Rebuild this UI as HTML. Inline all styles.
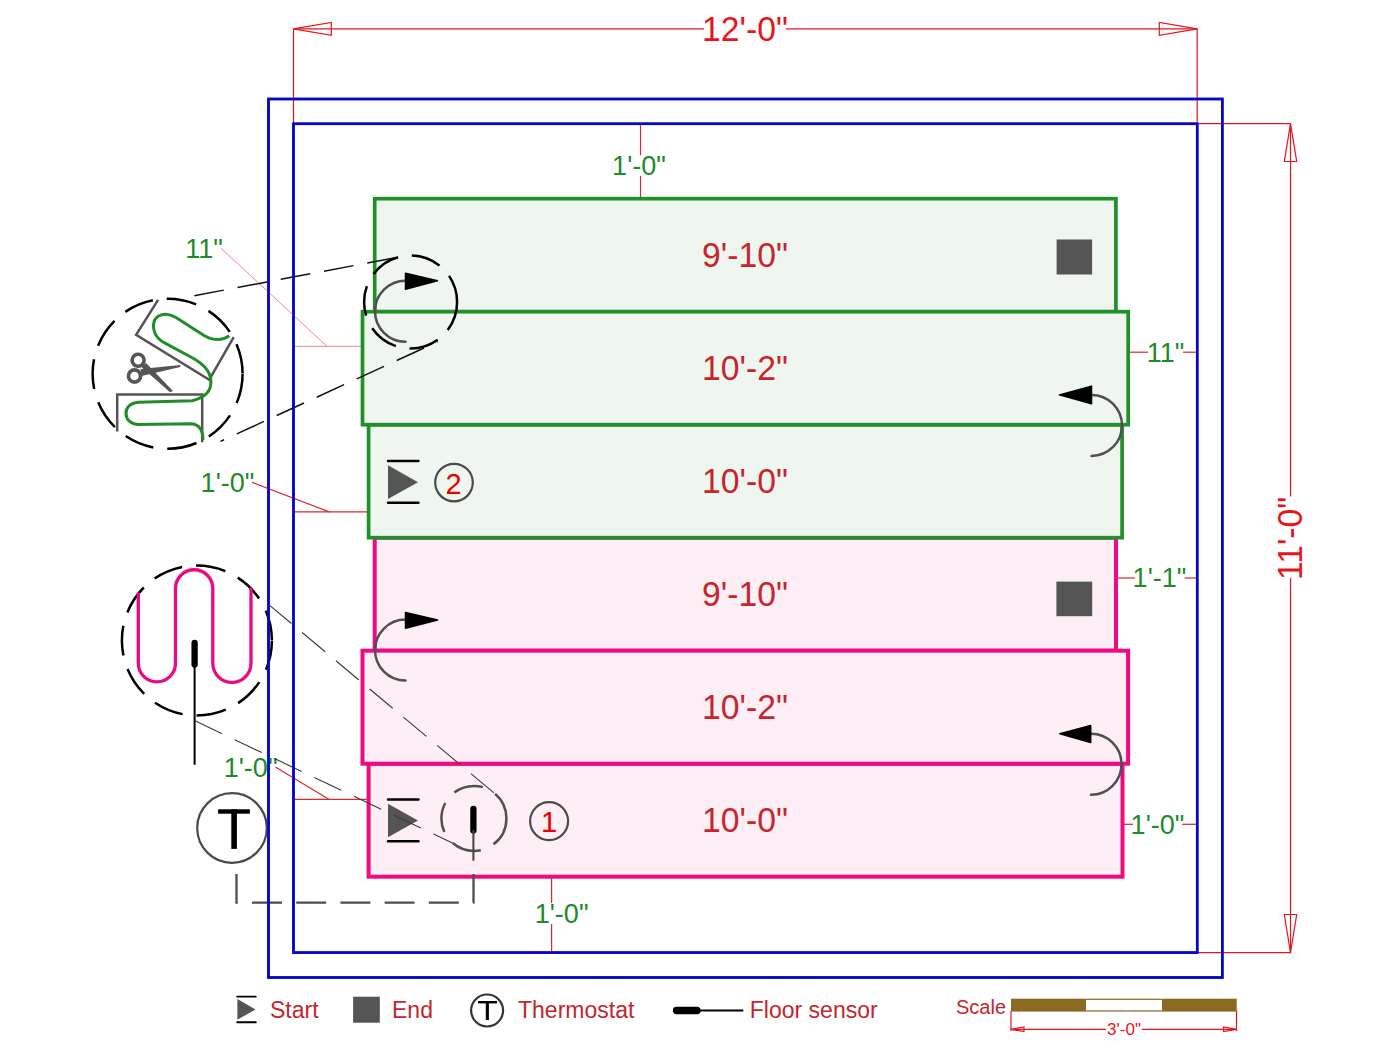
<!DOCTYPE html>
<html><head><meta charset="utf-8">
<style>
html,body{margin:0;padding:0;background:#fff;}
svg{display:block;}
text{font-family:"Liberation Sans",sans-serif;}
</style></head>
<body>
<svg width="1400" height="1049" viewBox="0 0 1400 1049">
<rect x="0" y="0" width="1400" height="1049" fill="#fff"/>

<!-- overall dims -->
<g stroke="#e8141c" stroke-width="1.2" fill="none">
  <line x1="293.5" y1="28.8" x2="704" y2="28.8"/>
  <line x1="786" y1="28.8" x2="1197.2" y2="28.8"/>
  <line x1="293.5" y1="28.8" x2="293.5" y2="123.7"/>
  <line x1="1197.2" y1="28.8" x2="1197.2" y2="123.7"/>
  <path d="M293.5 28.8 L331.3 22.5 L331.3 35.3 Z"/>
  <path d="M1197.2 28.8 L1159.3 22.5 L1159.3 35.3 Z"/>
  <line x1="1197.2" y1="123.7" x2="1291" y2="123.7"/>
  <line x1="1197.2" y1="952.6" x2="1291" y2="952.6"/>
  <line x1="1290.5" y1="123.7" x2="1290.5" y2="496.6"/>
  <line x1="1290.5" y1="578.1" x2="1290.5" y2="952.6"/>
  <path d="M1290.5 123.7 L1284.3 161.5 L1296.7 161.5 Z"/>
  <path d="M1290.5 952.6 L1284.3 914.5 L1296.7 914.5 Z"/>
</g>
<text x="745" y="40.8" font-size="35.5" fill="#e8141c" text-anchor="middle" transform="translate(745 0) scale(0.95 1) translate(-745 0)">12'-0"</text>
<text transform="translate(1302.2,538.4) rotate(-90) scale(0.95 1)" x="0" y="0" font-size="35.5" fill="#e8141c" text-anchor="middle">11'-0"</text>

<!-- walls -->
<rect x="268.5" y="99" width="953.8" height="878.5" fill="none" stroke="#0606c8" stroke-width="2.5"/>
<rect x="293.5" y="123.8" width="903.7" height="828.8" fill="none" stroke="#0606c8" stroke-width="2.5"/>

<!-- inner dims (red lines) -->
<g stroke="#d42a2a" stroke-width="1.2" fill="none">
  <line x1="640.5" y1="123.7" x2="640.5" y2="155.3"/>
  <line x1="640" y1="123.9" x2="648" y2="123.9"/>
  <line x1="640.5" y1="176" x2="640.5" y2="198.8"/>
  <line x1="551.6" y1="876.9" x2="551.6" y2="903"/>
  <line x1="551.6" y1="924" x2="551.6" y2="952.6"/>
  <line x1="538" y1="952.3" x2="552" y2="952.3"/>
  <line x1="1128.2" y1="352.2" x2="1148" y2="352.2"/>
  <line x1="1183" y1="352.2" x2="1197.2" y2="352.2"/>
  <line x1="1116" y1="578" x2="1135" y2="578"/>
  <line x1="1184.6" y1="578" x2="1197.2" y2="578"/>
  <line x1="1122.3" y1="824.3" x2="1133" y2="824.3"/>
  <line x1="1182" y1="824.3" x2="1197.2" y2="824.3"/>
  <polyline points="252.1,482.4 329.3,511.9"/>
  <line x1="293.5" y1="504" x2="293.5" y2="512"/>
  <line x1="293.5" y1="511.9" x2="368.6" y2="511.9"/>
  <polyline points="275.4,766.9 328.8,799.3"/>
  <line x1="293.5" y1="792" x2="293.5" y2="800"/>
  <line x1="293.5" y1="799.3" x2="368.6" y2="799.3"/>
</g>
<g stroke="#f08a8a" stroke-width="1" fill="none">
  <polyline points="220.7,247.9 327.1,346.4"/>
  <line x1="293.5" y1="346.4" x2="362.5" y2="346.4"/>
</g>
<g font-size="27" fill="#1f8a2a" text-anchor="middle">
  <text x="639" y="175">1'-0"</text>
  <text x="561.6" y="922.5">1'-0"</text>
  <text x="1165.5" y="361.5">11"</text>
  <text x="1159.5" y="586.5">1'-1"</text>
  <text x="1157.5" y="833.5">1'-0"</text>
  <text x="204" y="257.5">11"</text>
  <text x="227.5" y="492">1'-0"</text>
  <text x="250.6" y="776.5">1'-0"</text>
</g>

<!-- mats pink -->
<g stroke="#f00a82" stroke-width="4" fill="#feeef5">
  <rect x="374.7" y="537.7" width="741.3" height="113"/>
  <rect x="368.6" y="763.7" width="753.9" height="113"/>
  <rect x="362.5" y="650.7" width="765.6" height="113"/>
</g>
<!-- mats green -->
<g stroke="#22902a" stroke-width="3.7" fill="#eff6ef">
  <rect x="374.7" y="198.7" width="741.2" height="113"/>
  <rect x="368.6" y="424.7" width="753.5" height="113"/>
  <rect x="362.5" y="311.7" width="765.7" height="113"/>
</g>
<g font-size="35.5" fill="#c8242e" text-anchor="middle" transform="translate(745 0) scale(0.95 1) translate(-745 0)">
  <text x="745" y="267">9'-10"</text>
  <text x="745" y="380">10'-2"</text>
  <text x="745" y="493">10'-0"</text>
  <text x="745" y="606">9'-10"</text>
  <text x="745" y="719">10'-2"</text>
  <text x="745" y="832">10'-0"</text>
</g>

<!-- end squares -->
<rect x="1056.6" y="239.5" width="35.5" height="35" fill="#555"/>
<rect x="1056.4" y="581.6" width="35.8" height="34.6" fill="#555"/>

<!-- turn arrows -->
<g fill="none" stroke="#505050" stroke-width="2.5" stroke-linecap="round">
  <path d="M405.5 280.8 A30.5 30.5 0 0 0 405.5 341.8"/>
  <path d="M405.5 619.6 A30.5 30.5 0 0 0 405.5 680.6"/>
  <path d="M1091.5 394.9 A30.5 30.5 0 0 1 1091.5 455.9"/>
  <path d="M1091 733.8 A30.5 30.5 0 0 1 1091 794.8"/>
</g>
<g fill="#000" stroke="#000" stroke-width="1.5" stroke-linejoin="round">
  <path d="M405.5 273.2 L437.5 280.7 L405.5 289.2 Z"/>
  <path d="M405.5 612.4 L437.6 619.9 L405.5 628.3 Z"/>
  <path d="M1091.5 386.1 L1059.3 394.9 L1091.5 403.7 Z"/>
  <path d="M1090.7 725.5 L1059.9 733.8 L1090.7 742.5 Z"/>
</g>

<!-- start symbols -->
<g stroke="#000" stroke-width="2.4" stroke-linecap="round">
  <line x1="388" y1="461" x2="418.5" y2="461"/>
  <line x1="388" y1="502.8" x2="418.5" y2="502.8"/>
  <line x1="388" y1="799.5" x2="418.5" y2="799.5"/>
  <line x1="388" y1="841.3" x2="418.5" y2="841.3"/>
</g>
<path d="M388 465.3 L418 482.2 L388 499.1 Z" fill="#555"/>
<path d="M388 803.8 L418 820.5 L388 837.3 Z" fill="#555"/>

<!-- numbered circles -->
<g fill="none" stroke="#4a4a4a" stroke-width="2.2">
  <circle cx="454" cy="482.6" r="18.8"/>
  <circle cx="549.1" cy="821.1" r="19"/>
</g>
<g font-size="29" fill="#e60000" text-anchor="middle">
  <text x="453.6" y="493.6">2</text>
  <text x="549" y="831.8">1</text>
</g>

<!-- detail 1: green with scissors -->
<g fill="none" stroke="#111" stroke-width="1.5" stroke-dasharray="30 14">
  <line x1="194.3" y1="295.7" x2="398" y2="257.2"/>
  <line x1="220.4" y1="441.4" x2="437.5" y2="341.8" stroke-dashoffset="26"/>
</g>
<g fill="none" stroke="#000" stroke-width="2.5" stroke-dasharray="30 14">
  <circle cx="410.6" cy="302" r="46.5"/>
  <circle cx="167.6" cy="373.8" r="75"/>
</g>
<g fill="none" stroke="#555" stroke-width="2.5">
  <polyline points="158.1,299.8 136.1,334.8 209.3,379.7 233.7,337.2"/>
  <polyline points="117.2,431.6 117.2,394.6 202.2,394.6 202.2,442.3"/>
</g>
<path d="M229.4 335.8 C222 341 213 340.5 204 335.5 L176 317.6 C166 311.5 156 314.5 154 322 C152 330 156 338.5 164.6 342.9 L191.3 357.2 C207 365.5 212.5 376 210.5 386 C209 394 201 398.5 192.1 400.8 L138.6 402.3 C129 403 125.5 409 126 414 C126.5 420 131 424.3 138.6 424.5 L190.4 423.8 C197.5 424 203 428 202.9 440" fill="none" stroke="#238c2a" stroke-width="3"/>
<!-- scissors -->
<g fill="none" stroke="#555" stroke-width="3.6">
  <circle cx="138.1" cy="360.3" r="6"/>
  <circle cx="134.5" cy="376" r="6.1"/>
</g>
<path d="M141.2 366.8 L146 363 L173 391 L170 392.2 Z" fill="#555"/>
<path d="M140.5 369 L180.5 365 L180.3 367 L141.5 376 Z" fill="#555"/>

<!-- detail 2: pink serpentine -->
<g fill="none" stroke="#3a3a3a" stroke-width="1.1" stroke-dasharray="30 14">
  <line x1="268.4" y1="604.3" x2="494.3" y2="793.2"/>
  <line x1="195" y1="720.8" x2="454.6" y2="844.1"/>
</g>
<g fill="none" stroke="#000" stroke-width="2.5" stroke-dasharray="30 14">
  <circle cx="196.9" cy="640.5" r="75"/>
</g>
<g fill="none" stroke="#505050" stroke-width="2.5" stroke-dasharray="30 14">
  <circle cx="473.9" cy="818.4" r="32.5"/>
</g>
<path d="M138.3 592.8 L138.3 663.3 A18.6 18.6 0 0 0 175.5 663.3 L175.5 588.4 A18.65 18.65 0 0 1 212.8 588.4 L212.8 663.3 A19.1 19.1 0 0 0 251 663.3 L251 587.5" fill="none" stroke="#ea0a84" stroke-width="3.3"/>
<line x1="194.6" y1="643" x2="194.6" y2="664.5" stroke="#000" stroke-width="6.3" stroke-linecap="round"/>
<line x1="194.6" y1="664" x2="194.6" y2="764.8" stroke="#000" stroke-width="2"/>
<line x1="473.4" y1="809" x2="473.4" y2="830.5" stroke="#000" stroke-width="6.3" stroke-linecap="round"/>
<line x1="473.4" y1="830" x2="473.4" y2="860.7" stroke="#444" stroke-width="2"/>

<!-- thermostat -->
<circle cx="232" cy="828" r="34.8" fill="none" stroke="#4a4a4a" stroke-width="2.2"/>
<rect x="218.1" y="809.3" width="31.8" height="4.4" fill="#000"/><rect x="231.3" y="809.3" width="5.6" height="39.6" fill="#000"/>
<path d="M236.5 874 L236.5 902.7 L473.5 902.7 L473.5 874" fill="none" stroke="#4d4d4d" stroke-width="2.3" stroke-dasharray="30 14.2"/>

<!-- walls redraw -->
<rect x="268.5" y="99" width="953.8" height="878.5" fill="none" stroke="#0606c8" stroke-width="2.5"/>
<rect x="293.5" y="123.8" width="903.7" height="828.8" fill="none" stroke="#0606c8" stroke-width="2.5"/>
<!-- legend -->
<g stroke="#000" stroke-width="1.9" stroke-linecap="round">
  <line x1="237.2" y1="996.6" x2="255.8" y2="996.6"/>
  <line x1="237.2" y1="1022.2" x2="255.8" y2="1022.2"/>
</g>
<path d="M237.4 999.1 L255.5 1009.4 L237.4 1019.7 Z" fill="#555"/>
<rect x="353.1" y="996.7" width="26.7" height="26" fill="#555"/>
<circle cx="487.1" cy="1010.5" r="16" fill="none" stroke="#333" stroke-width="2.2"/>
<rect x="477.9" y="1001" width="19.1" height="2.4" fill="#000"/><rect x="485.8" y="1001" width="3.1" height="19" fill="#000"/>
<line x1="676.5" y1="1010.5" x2="697" y2="1010.5" stroke="#000" stroke-width="7.3" stroke-linecap="round"/>
<line x1="697" y1="1010.5" x2="743.3" y2="1010.5" stroke="#000" stroke-width="2"/>
<g font-size="23" fill="#c0282d">
  <text x="270" y="1017.5">Start</text>
  <text x="392" y="1017.5">End</text>
  <text x="518" y="1017.5">Thermostat</text>
  <text x="749.8" y="1017.5">Floor sensor</text>
  <text x="956" y="1014" font-size="20">Scale</text>
</g>
<!-- scale bar -->
<rect x="1011" y="998.7" width="225.7" height="12.9" fill="#8b6a23"/>
<rect x="1086" y="999.9" width="76" height="10.5" fill="#fff"/>
<g stroke="#e8141c" stroke-width="1.2" fill="none">
  <line x1="1011" y1="1011" x2="1011" y2="1031"/>
  <line x1="1236.5" y1="1011" x2="1236.5" y2="1031"/>
  <line x1="1011" y1="1029.3" x2="1106" y2="1029.3"/>
  <line x1="1142" y1="1029.3" x2="1236.5" y2="1029.3"/>
  <path d="M1011 1029.3 L1024 1027 L1024 1031.6 Z"/>
  <path d="M1236.5 1029.3 L1223.5 1027 L1223.5 1031.6 Z"/>
</g>
<text x="1124" y="1035" font-size="17" fill="#e8141c" text-anchor="middle">3'-0"</text>
</svg>
</body></html>
